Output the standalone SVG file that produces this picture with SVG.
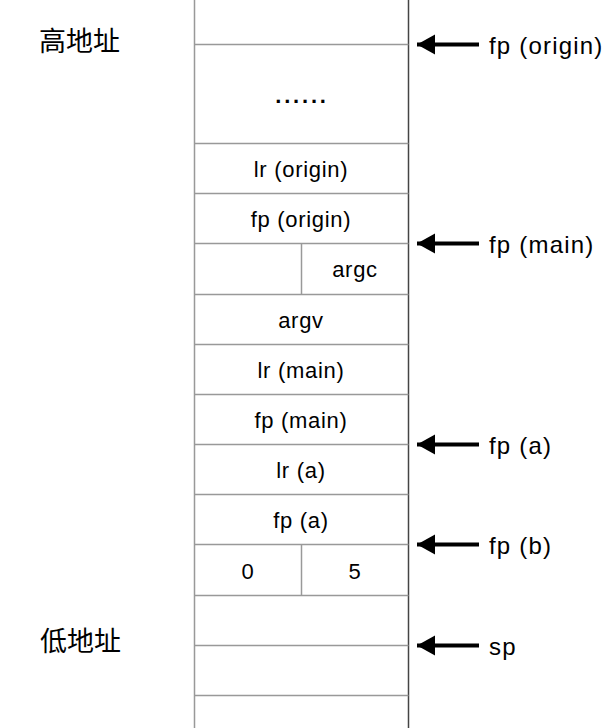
<svg xmlns="http://www.w3.org/2000/svg" width="614" height="728" viewBox="0 0 614 728">
<defs>
<style>
.cell{font-family:"Liberation Sans",Arial,sans-serif;font-size:22px;letter-spacing:0.7px;fill:#000;text-anchor:middle}
.lbl{font-family:"Liberation Sans",Arial,sans-serif;font-size:24px;letter-spacing:1.2px;fill:#000}
.cjk{font-family:"Liberation Sans","Noto Sans CJK SC",sans-serif;font-size:27px;fill:#000}
.hl{stroke:#999;stroke-width:1.5;fill:none}
.arr{stroke:#000;stroke-width:4;fill:none}
</style>
<marker id="ah" markerWidth="18" markerHeight="22" refX="18" refY="11" orient="auto" markerUnits="userSpaceOnUse">
<path d="M0,1 L18,11 L0,21 Z" fill="#000"/>
</marker>
</defs>
<rect width="614" height="728" fill="#fff"/>
<g id="stack">
<line class="hl" x1="194.5" y1="0" x2="194.5" y2="728"/>
<line x1="408.5" y1="0" x2="408.5" y2="728" stroke="#444" stroke-width="1.5"/>
<line class="hl" x1="194.5" y1="44.5" x2="408.5" y2="44.5"/>
<line class="hl" x1="194.5" y1="143.5" x2="408.5" y2="143.5"/>
<line class="hl" x1="194.5" y1="193.5" x2="408.5" y2="193.5"/>
<line class="hl" x1="194.5" y1="243.5" x2="408.5" y2="243.5"/>
<line class="hl" x1="194.5" y1="294.5" x2="408.5" y2="294.5"/>
<line class="hl" x1="194.5" y1="344.5" x2="408.5" y2="344.5"/>
<line class="hl" x1="194.5" y1="394.5" x2="408.5" y2="394.5"/>
<line class="hl" x1="194.5" y1="444.5" x2="408.5" y2="444.5"/>
<line class="hl" x1="194.5" y1="494.5" x2="408.5" y2="494.5"/>
<line class="hl" x1="194.5" y1="544.5" x2="408.5" y2="544.5"/>
<line class="hl" x1="194.5" y1="595.5" x2="408.5" y2="595.5"/>
<line class="hl" x1="194.5" y1="645.5" x2="408.5" y2="645.5"/>
<line class="hl" x1="194.5" y1="695.5" x2="408.5" y2="695.5"/>
<line class="hl" x1="301.5" y1="243.5" x2="301.5" y2="294.5"/>
<line class="hl" x1="301.5" y1="544.5" x2="301.5" y2="595.5"/>
</g>
<g id="cell-dots"><text class="cell" x="302" y="103" style="letter-spacing:2.8px;font-weight:bold">......</text></g>
<g id="cell-lr-origin"><text class="cell" x="301" y="177">lr (origin)</text></g>
<g id="cell-fp-origin"><text class="cell" x="301" y="227">fp (origin)</text></g>
<g id="cell-argc"><text class="cell" x="355" y="277">argc</text></g>
<g id="cell-argv"><text class="cell" x="301" y="328">argv</text></g>
<g id="cell-lr-main"><text class="cell" x="301" y="378">lr (main)</text></g>
<g id="cell-fp-main"><text class="cell" x="301" y="428">fp (main)</text></g>
<g id="cell-lr-a"><text class="cell" x="301" y="478">lr (a)</text></g>
<g id="cell-fp-a"><text class="cell" x="301" y="528">fp (a)</text></g>
<g id="cell-0"><text class="cell" x="248" y="579">0</text></g>
<g id="cell-5"><text class="cell" x="355" y="579">5</text></g>
<g id="high"><text class="cjk" x="39" y="51">高地址</text></g>
<g id="low"><text class="cjk" x="40" y="651">低地址</text></g>
<g id="connectors">
<line class="arr" x1="479" y1="44.5" x2="417" y2="44.5" marker-end="url(#ah)"/>
<line class="arr" x1="479" y1="243.5" x2="417" y2="243.5" marker-end="url(#ah)"/>
<line class="arr" x1="479" y1="444.5" x2="417" y2="444.5" marker-end="url(#ah)"/>
<line class="arr" x1="479" y1="544.5" x2="417" y2="544.5" marker-end="url(#ah)"/>
<line class="arr" x1="479" y1="645.5" x2="417" y2="645.5" marker-end="url(#ah)"/>
</g>
<g id="lbl-fp-origin"><text class="lbl" x="489" y="54">fp (origin)</text></g>
<g id="lbl-fp-main"><text class="lbl" x="489" y="253">fp (main)</text></g>
<g id="lbl-fp-a"><text class="lbl" x="489" y="454">fp (a)</text></g>
<g id="lbl-fp-b"><text class="lbl" x="489" y="554">fp (b)</text></g>
<g id="lbl-sp"><text class="lbl" x="489" y="655">sp</text></g>
</svg>
